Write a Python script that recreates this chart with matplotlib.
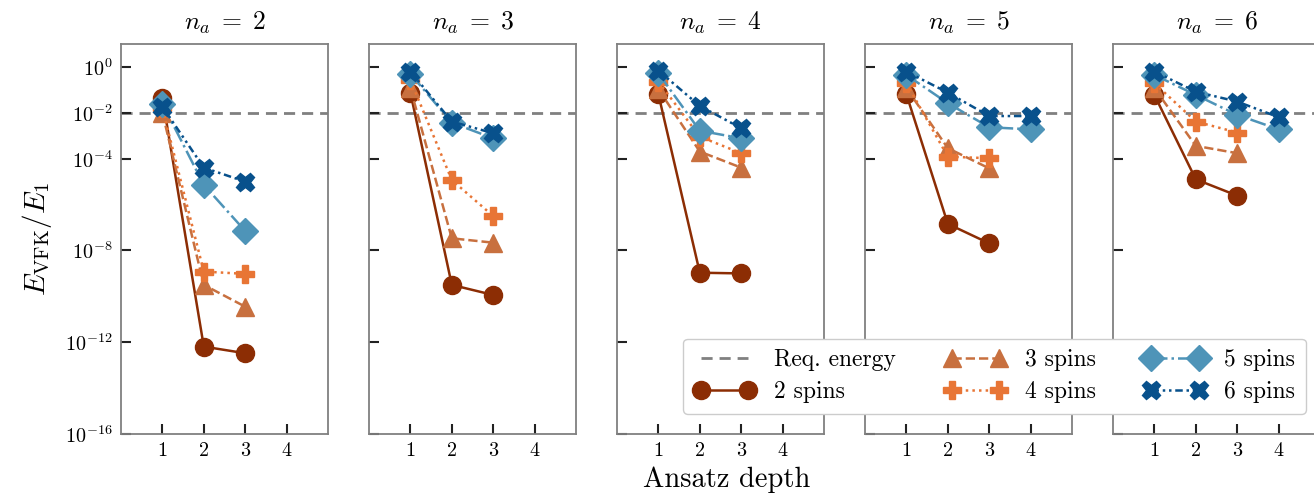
import numpy as np
import matplotlib
matplotlib.use("Agg")
import matplotlib.pyplot as plt
from matplotlib.ticker import FixedLocator, NullLocator, LogFormatterMathtext

plt.rcParams["font.family"] = "serif"
plt.rcParams["font.serif"] = ["cmr10", "DejaVu Serif"]
plt.rcParams["mathtext.fontset"] = "cm"
plt.rcParams["axes.formatter.use_mathtext"] = True

# data: log10(E_VFK / E_1) for each ancilla count n_a and system size
n_ancilla = [2, 3, 4, 5, 6]
spins = [2, 3, 4, 5, 6]
req_energy = 1e-2

log_energy = {
    2: {2: [-1.34, -12.19, -12.48],
        3: [-2.0, -9.5, -10.45],
        4: [-1.8, -8.92, -9.02],
        5: [-1.6, -5.14, -7.15],
        6: [-1.73, -4.39, -5.0]},
    3: {2: [-1.12, -9.5, -9.94],
        3: [-0.93, -7.47, -7.66],
        4: [-0.57, -4.93, -6.5],
        5: [-0.3, -2.43, -3.11],
        6: [-0.2, -2.38, -2.89]},
    4: {2: [-1.19, -8.97, -9.0],
        3: [-0.97, -3.69, -4.39],
        4: [-0.64, -3.04, -3.76],
        5: [-0.28, -2.78, -3.11],
        6: [-0.16, -1.70, -2.67]},
    5: {2: [-1.19, -6.84, -7.69],
        3: [-0.93, -3.54, -4.42],
        4: [-0.71, -3.91, -3.98],
        5: [-0.35, -1.58, -2.63, -2.72],
        6: [-0.2, -1.12, -2.14, -2.14]},
    6: {2: [-1.22, -4.9, -5.61],
        3: [-0.93, -3.44, -3.76],
        4: [-0.71, -2.38, -2.86],
        5: [-0.35, -1.22, -2.09, -2.72],
        6: [-0.2, -1.08, -1.51, -2.19]},
}

colors = {2: "#8c2d04", 3: "#c8703f", 4: "#e87535", 5: "#4e94b8", 6: "#08518c"}
markers = {2: "o", 3: "^", 4: "P", 5: "D", 6: "X"}
styles = {2: "-", 3: "--", 4: ":", 5: "-.", 6: (0, (3, 1.5, 1, 1.5, 1, 1.5))}

W, H = 1314, 495
fig = plt.figure(figsize=(W / 100, H / 100), dpi=100)

left0, width, step = 121 / W, 207 / W, 248 / W
bottom, height = 1 - 434 / H, (434 - 44) / H

handles = []
for i, na in enumerate(n_ancilla):
    ax = fig.add_axes([left0 + i * step, bottom, width, height])
    h = ax.axhline(req_energy, color="#808080", ls=(0, (4, 2.5)), lw=2, zorder=1,
                   label="Req. energy")
    for s in spins:
        y = 10.0 ** np.array(log_energy[na][s])
        x = np.arange(1, len(y) + 1)
        line, = ax.plot(x, y, color=colors[s], marker=markers[s], ls=styles[s],
                        lw=1.8, ms=13, mec=colors[s], label=f"{s} spins", zorder=2)
        if i == 0:
            handles.append(line)
    if i == 0:
        handles.insert(0, h)
    ax.set_yscale("log")
    ax.set_ylim(1e-16, 1e1)
    ax.set_xlim(0, 5)
    ax.set_xticks([1, 2, 3, 4])
    ax.yaxis.set_major_locator(FixedLocator([1e0, 1e-2, 1e-4, 1e-8, 1e-12, 1e-16]))
    ax.yaxis.set_major_formatter(LogFormatterMathtext())
    ax.yaxis.set_minor_locator(NullLocator())
    ax.tick_params(direction="in", length=7, width=1.5, color="#222222",
                   labelsize=14.5, pad=6)
    ax.tick_params(axis="y", labelleft=(i == 0))
    for sp in ax.spines.values():
        sp.set_color("#808080")
        sp.set_linewidth(1.3)
    ax.set_title(rf"$n_a\;=\;{na}$", fontsize=18.5, pad=10)
    if i == 0:
        ax.set_ylabel(r"$E_{\mathrm{VFK}}/E_1$", fontsize=21, labelpad=8)

fig.text(727 / W, 1 - 480 / H, "Ansatz depth", ha="center", va="center", fontsize=20.5)

fig.legend(handles=handles, loc="lower right", ncol=3, numpoints=2,
           bbox_to_anchor=(1306 / W, 1 - 414 / H), borderaxespad=0, fontsize=17,
           frameon=True, fancybox=True, edgecolor="#cccccc", framealpha=1,
           handlelength=2.6, handletextpad=0.8, columnspacing=2.05,
           borderpad=0.45, labelspacing=0.42)

fig.savefig("out.png", dpi=100)
